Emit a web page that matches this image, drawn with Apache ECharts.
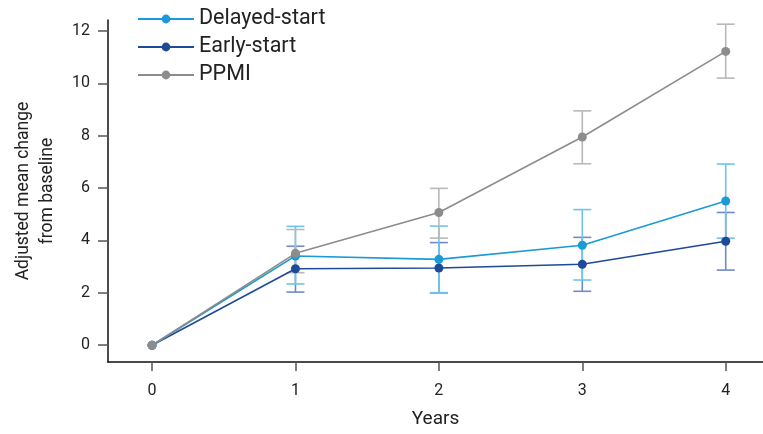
<!DOCTYPE html>
<html>
<head>
<meta charset="utf-8">
<script src="https://cdn.jsdelivr.net/npm/echarts@6/dist/echarts.min.js"></script>
<style>
  html, body { margin: 0; padding: 0; background: #fff; }
  #chart { width: 763px; height: 434px; }
</style>
</head>
<body>
<div id="chart"></div>
<script>
// data
const years = [0, 1, 2, 3, 4];
const delayedMean = [0, 3.41, 3.28, 3.82, 5.51];
const delayedLow = [0, 2.34, 2.01, 2.49, 4.09];
const delayedHigh = [0, 4.54, 4.55, 5.18, 6.92];
const earlyMean = [0, 2.92, 2.95, 3.09, 3.97];
const earlyLow = [0, 2.03, 2.0, 2.06, 2.87];
const earlyHigh = [0, 3.78, 3.92, 4.12, 5.07];
const ppmiMean = [0, 3.51, 5.07, 7.95, 11.22];
const ppmiLow = [0, 2.77, 4.09, 6.93, 10.2];
const ppmiHigh = [0, 4.42, 5.99, 8.95, 12.26];
const yTicks = [0, 2, 4, 6, 8, 10, 12];

const colors = {
    delayed: '#1a9ad6',
    early: '#1f4a98',
    ppmi: '#8c8c8c'
};
const barColors = {
    delayed: '#6cc4ec',
    early: '#6f8bbf',
    ppmi: '#b9b9b9'
};

function pairs(ys) {
    return years.map((x, i) => [x, ys[i]]);
}

function errorSeries(name, lows, highs, color, z) {
    const data = years.map((x, i) => [x, lows[i], highs[i]]).filter(d => d[0] !== 0);
    return {
        type: 'custom',
        name: name + '-err',
        z: z,
        silent: true,
        data: data,
        renderItem: function (params, api) {
            const top = api.coord([api.value(0), api.value(2)]);
            const bot = api.coord([api.value(0), api.value(1)]);
            const hw = 9;
            const style = { stroke: color, lineWidth: 1.6 };
            return {
                type: 'group',
                children: [
                    { type: 'line', shape: { x1: top[0], y1: top[1], x2: bot[0], y2: bot[1] }, style: style },
                    { type: 'line', shape: { x1: top[0] - hw, y1: top[1], x2: top[0] + hw, y2: top[1] }, style: style },
                    { type: 'line', shape: { x1: bot[0] - hw, y1: bot[1], x2: bot[0] + hw, y2: bot[1] }, style: style }
                ]
            };
        }
    };
}

function lineSeries(name, ys, color, z) {
    return {
        type: 'line',
        name: name,
        z: z,
        data: pairs(ys),
        symbol: 'circle',
        symbolSize: 9,
        lineStyle: { color: color, width: 1.6 },
        itemStyle: { color: color },
        emphasis: { disabled: true }
    };
}

const chart = echarts.init(document.getElementById('chart'), null, { renderer: 'canvas' });
const option = {
    animation: false,
    textStyle: { fontFamily: 'Roboto', color: '#222' },
    grid: { left: 108, right: 0, top: 20, bottom: 68 },
    legend: {
        orient: 'vertical',
        left: 132,
        top: 3,
        itemWidth: 56,
        itemHeight: 11,
        itemGap: 6,
        textStyle: { fontSize: 21.5, color: '#222', fontFamily: 'Roboto' },
        data: ['Delayed-start', 'Early-start', 'PPMI']
    },
    xAxis: {
        type: 'value',
        min: -0.307,
        max: 4.26,
        name: 'Years',
        nameLocation: 'middle',
        nameGap: 48,
        nameTextStyle: { fontSize: 19, color: '#222' },
        splitLine: { show: false },
        axisLine: { show: true, onZero: false, lineStyle: { color: '#111', width: 1.5 } },
        axisTick: { show: true, length: 9, customValues: years, lineStyle: { color: '#555', width: 1.5 } },
        axisLabel: { customValues: years, fontSize: 16, color: '#222', margin: 21 }
    },
    yAxis: {
        type: 'value',
        min: -0.64,
        max: 12.42,
        name: 'Adjusted mean change\nfrom baseline',
        nameLocation: 'middle',
        nameGap: 48,
        nameTextStyle: { fontSize: 17.5, color: '#222', lineHeight: 24 },
        splitLine: { show: false },
        axisLine: { show: true, onZero: false, lineStyle: { color: '#111', width: 1.5 } },
        axisTick: { show: true, length: 10, customValues: yTicks, lineStyle: { color: '#555', width: 1.5 } },
        axisLabel: { customValues: yTicks, fontSize: 16, color: '#222', margin: 18 }
    },
    series: [
        errorSeries('Early-start', earlyLow, earlyHigh, barColors.early, 1),
        errorSeries('Delayed-start', delayedLow, delayedHigh, barColors.delayed, 1),
        errorSeries('PPMI', ppmiLow, ppmiHigh, barColors.ppmi, 1),
        lineSeries('Early-start', earlyMean, colors.early, 3),
        lineSeries('Delayed-start', delayedMean, colors.delayed, 4),
        lineSeries('PPMI', ppmiMean, colors.ppmi, 5)
    ]
};
chart.setOption(option);
</script>
</body>
</html>
